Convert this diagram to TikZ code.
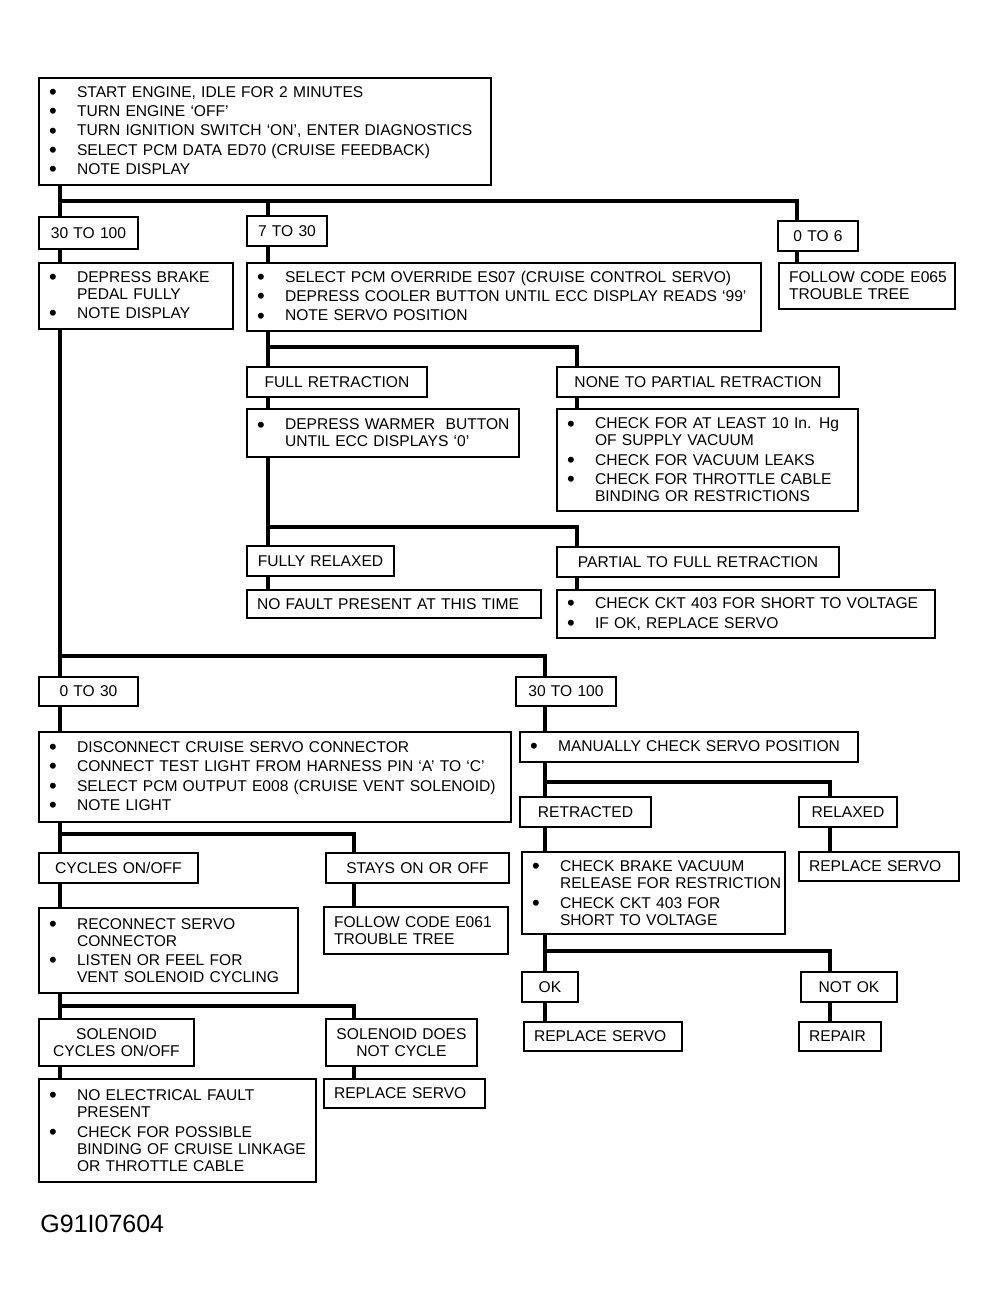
\documentclass[tikz,border=0pt]{standalone}
\usepackage{fontspec}
\setmainfont{Liberation Sans}
\newcommand{\bul}{\makebox[14pt][l]{\raisebox{-1.1pt}{\fontsize{11}{0}\selectfont\textbullet}}}
\newcommand{\ind}{\hspace*{14pt}}

\begin{document}
\begin{tikzpicture}[x=0.5pt, y=-0.5pt,
    box/.style={draw, line width=1pt, anchor=north west, inner xsep=5pt, inner ysep=2pt,
      align=left, font=\fontsize{7.8}{8.5}\selectfont},
    tag/.style={box, align=center},
    wire/.style={line width=2.2pt}]
  \useasboundingbox (0,0) rectangle (996,1307);

  % top
  \node[box, text width=216pt, minimum height=53.5pt] (start) at (38,77)
    {\bul START ENGINE, IDLE FOR 2 MINUTES\\[1.2pt]
     \bul TURN ENGINE `OFF'\\[1.2pt]
     \bul TURN IGNITION SWITCH `ON', ENTER DIAGNOSTICS\\[1.2pt]
     \bul SELECT PCM DATA ED70 (CRUISE FEEDBACK)\\[1.2pt]
     \bul NOTE DISPLAY};
  \node[tag, text width=39.5pt, minimum height=16pt] (a1) at (38,216) {30 TO 100};
  \node[tag, text width=30pt, minimum height=15pt] (b1) at (246,215) {7 TO 30};
  \node[tag, text width=30pt, minimum height=15pt] (c1) at (777,220) {0 TO 6};
  \node[box, text width=87pt, minimum height=33pt] (a2) at (38,262)
    {\bul DEPRESS BRAKE\\ \ind PEDAL FULLY\\[1.2pt] \bul NOTE DISPLAY};
  \node[box, text width=247pt, minimum height=34pt] (b2) at (246,262)
    {\bul SELECT PCM OVERRIDE ES07 (CRUISE CONTROL SERVO)\\[1.2pt]
     \bul DEPRESS COOLER BUTTON UNTIL ECC DISPLAY READS `99'\\[1.2pt]
     \bul NOTE SERVO POSITION};
  \node[box, text width=78pt, minimum height=23pt] (c2) at (778,262)
    {\mbox{FOLLOW CODE E065}\\ TROUBLE TREE};

  % 7 to 30 branch
  \node[tag, text width=80pt, minimum height=15pt] (b3) at (246,366) {FULL RETRACTION};
  \node[tag, text width=131pt, minimum height=15pt] (d3) at (556,366) {NONE TO PARTIAL RETRACTION};
  \node[box, text width=126pt, minimum height=24pt] (b4) at (246,408)
    {\bul \mbox{DEPRESS WARMER\ \ BUTTON}\\ \ind UNTIL ECC DISPLAYS `0'};
  \node[box, text width=140.5pt, minimum height=51pt] (d4) at (556,408)
    {\bul CHECK FOR AT LEAST 10 In. Hg\\ \ind OF SUPPLY VACUUM\\[1.2pt]
     \bul CHECK FOR VACUUM LEAKS\\[1.2pt]
     \bul CHECK FOR THROTTLE CABLE\\ \ind BINDING OR RESTRICTIONS};
  \node[tag, text width=63.5pt, minimum height=15pt] (b5) at (246,545) {FULLY RELAXED};
  \node[tag, text width=131pt, minimum height=15pt] (d5) at (556,546) {PARTIAL TO FULL RETRACTION};
  \node[box, text width=137pt, minimum height=14pt] (b6) at (246,589) {NO FAULT PRESENT AT THIS TIME};
  \node[box, text width=179pt, minimum height=24pt] (d6) at (556,589)
    {\bul CHECK CKT 403 FOR SHORT TO VOLTAGE\\[1.2pt] \bul IF OK, REPLACE SERVO};

  % after brake pedal
  \node[tag, text width=39.5pt, minimum height=14.5pt] (e1) at (38,676) {0 TO 30};
  \node[tag, text width=40pt, minimum height=14.5pt] (f1) at (515,676) {30 TO 100};
  \node[box, text width=226pt, minimum height=45pt] (e2) at (38,731)
    {\bul DISCONNECT CRUISE SERVO CONNECTOR\\[1.2pt]
     \bul CONNECT TEST LIGHT FROM HARNESS PIN `A' TO `C'\\[1.2pt]
     \bul SELECT PCM OUTPUT E008 (CRUISE VENT SOLENOID)\\[1.2pt]
     \bul NOTE LIGHT};
  \node[box, text width=159pt, minimum height=15pt] (f2) at (519,731) {\bul MANUALLY CHECK SERVO POSITION};

  % servo position
  \node[tag, text width=55.5pt, minimum height=15pt] (f3) at (519,796) {RETRACTED};
  \node[tag, text width=39pt, minimum height=15pt] (g3) at (798,796) {RELAXED};
  \node[box, text width=121.5pt, minimum height=41pt] (f4) at (521,851)
    {\bul CHECK BRAKE VACUUM\\ \ind \mbox{RELEASE FOR RESTRICTION}\\[1.2pt]
     \bul CHECK CKT 403 FOR\\ \ind SHORT TO VOLTAGE};
  \node[box, text width=70pt, minimum height=14.5pt] (g4) at (798,851) {REPLACE SERVO};
  \node[tag, text width=18pt, minimum height=15pt] (f5) at (521,971) {OK};
  \node[tag, text width=38pt, minimum height=15pt] (g5) at (800,971) {NOT OK};
  \node[box, text width=69pt, minimum height=14.5pt] (f6) at (523,1021) {REPLACE SERVO};
  \node[box, text width=31pt, minimum height=14.5pt] (g6) at (798,1021) {REPAIR};

  % test light
  \node[tag, text width=69.5pt, minimum height=15pt] (e3) at (38,852) {CYCLES ON/OFF};
  \node[tag, text width=81.5pt, minimum height=15pt] (h3) at (325,852) {STAYS ON OR OFF};
  \node[box, text width=119.5pt, minimum height=42.5pt] (e4) at (38,907)
    {\bul RECONNECT SERVO\\ \ind CONNECTOR\\[1.2pt]
     \bul LISTEN OR FEEL FOR\\ \ind VENT SOLENOID CYCLING};
  \node[box, text width=82pt, minimum height=23.5pt] (h4) at (323,906)
    {FOLLOW CODE E061\\ TROUBLE TREE};
  \node[tag, text width=67.5pt, minimum height=23.5pt] (e5) at (38,1018) {SOLENOID\\ CYCLES ON/OFF};
  \node[tag, text width=65.5pt, minimum height=23.5pt] (h5) at (325,1018) {SOLENOID DOES\\ NOT CYCLE};
  \node[box, text width=128.5pt, minimum height=51.5pt] (e6) at (38,1078)
    {\bul NO ELECTRICAL FAULT\\ \ind PRESENT\\[1.2pt]
     \bul CHECK FOR POSSIBLE\\ \ind BINDING OF CRUISE LINKAGE\\ \ind OR THROTTLE CABLE};
  \node[box, text width=70.5pt, minimum height=14.5pt] (h6) at (323,1078) {REPLACE SERVO};

  \node[anchor=base west, inner sep=0pt, font=\fontsize{12.5}{14}\selectfont] (fig) at (40,1232) {G91I07604};

  % junctions
  \coordinate (j1) at (60,201);   \coordinate (j1b) at (268,201); \coordinate (j1c) at (797,201);
  \coordinate (j2) at (268,347);  \coordinate (j2r) at (577,347);
  \coordinate (j3) at (268,527);  \coordinate (j3r) at (577,527);
  \coordinate (j4) at (60,656);   \coordinate (j4r) at (545,656);
  \coordinate (j5) at (545,782);  \coordinate (j5r) at (830,782);
  \coordinate (j6) at (545,951);  \coordinate (j6r) at (830,951);
  \coordinate (j7) at (60,834);   \coordinate (j7r) at (354,834);
  \coordinate (j8) at (60,1006);  \coordinate (j8r) at (354,1006);

  \draw[wire] (start.south -| j1) -- (a1.north -| j1);
  \draw[wire] (j1) -- (j1c) -- (c1.north -| j1c);
  \draw[wire] (j1b) -- (b1.north -| j1b);
  \draw[wire] (a1.south -| j1) -- (a2.north -| j1);
  \draw[wire] (b1.south -| j1b) -- (b2.north -| j1b);
  \draw[wire] (c1.south -| j1c) -- (c2.north -| j1c);

  \draw[wire] (b2.south -| j2) -- (b3.north -| j2);
  \draw[wire] (j2) -- (j2r) -- (d3.north -| j2r);
  \draw[wire] (b3.south -| j2) -- (b4.north -| j2);
  \draw[wire] (d3.south -| j2r) -- (d4.north -| j2r);
  \draw[wire] (b4.south -| j3) -- (b5.north -| j3);
  \draw[wire] (j3) -- (j3r) -- (d5.north -| j3r);
  \draw[wire] (b5.south -| j3) -- (b6.north -| j3);
  \draw[wire] (d5.south -| j3r) -- (d6.north -| j3r);

  \draw[wire] (a2.south -| j4) -- (e1.north -| j4);
  \draw[wire] (j4) -- (j4r) -- (f1.north -| j4r);
  \draw[wire] (e1.south -| j4) -- (e2.north -| j4);
  \draw[wire] (f1.south -| j4r) -- (f2.north -| j4r);

  \draw[wire] (f2.south -| j5) -- (f3.north -| j5);
  \draw[wire] (j5) -- (j5r) -- (g3.north -| j5r);
  \draw[wire] (f3.south -| j5) -- (f4.north -| j5);
  \draw[wire] (g3.south -| j5r) -- (g4.north -| j5r);
  \draw[wire] (f4.south -| j6) -- (f5.north -| j6);
  \draw[wire] (j6) -- (j6r) -- (g5.north -| j6r);
  \draw[wire] (f5.south -| j6) -- (f6.north -| j6);
  \draw[wire] (g5.south -| j6r) -- (g6.north -| j6r);

  \draw[wire] (e2.south -| j7) -- (e3.north -| j7);
  \draw[wire] (j7) -- (j7r) -- (h3.north -| j7r);
  \draw[wire] (e3.south -| j7) -- (e4.north -| j7);
  \draw[wire] (h3.south -| j7r) -- (h4.north -| j7r);
  \draw[wire] (e4.south -| j8) -- (e5.north -| j8);
  \draw[wire] (j8) -- (j8r) -- (h5.north -| j8r);
  \draw[wire] (e5.south -| j8) -- (e6.north -| j8);
  \draw[wire] (h5.south -| j8r) -- (h6.north -| j8r);
\end{tikzpicture}
\end{document}
